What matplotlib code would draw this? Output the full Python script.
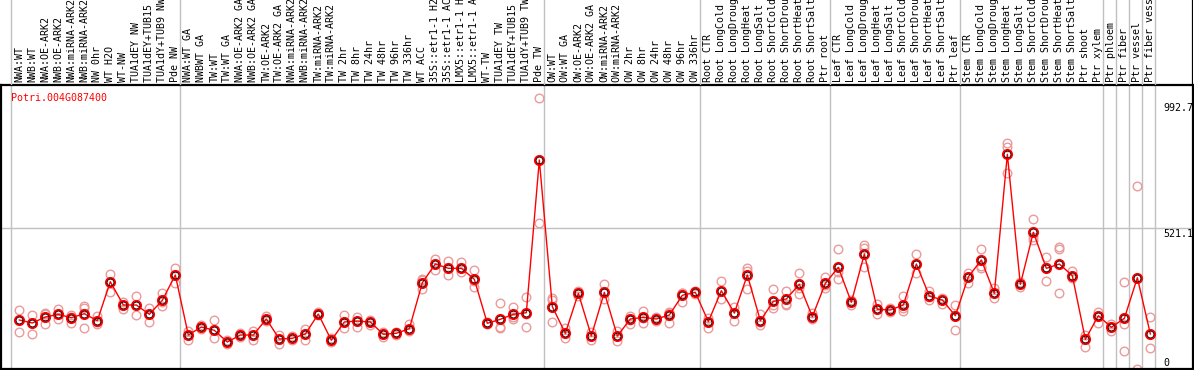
import numpy as np
import matplotlib
matplotlib.use("Agg")
import matplotlib.pyplot as plt

gene = "Potri.004G087400"

samples = [
    "NWA:WT", "NWB:WT", "NWA:OE-ARK2", "NWB:OE-ARK2", "NWA:miRNA-ARK2", "NWB:miRNA-ARK2",
    "NW 0hr", "WT H2O", "WT-NW", "TUA1dEY NW", "TUA1dEY+TUB15 NW", "TUA1dY+TUB9 NW", "Pde NW",
    "NWA:WT GA", "NWBWT GA", "TW:WT", "TW:WT GA", "NWA:OE-ARK2 GA", "NWB:OE-ARK2 GA",
    "TW:OE-ARK2", "TW:OE-ARK2 GA", "NWA:miRNA-ARK2 GA", "NWB:miRNA-ARK2 GA", "TW:miRNA-ARK2",
    "TW:miRNA-ARK2 GA", "TW 2hr", "TW 8hr", "TW 24hr", "TW 48hr", "TW 96hr", "TW 336hr",
    "WT ACC", "35S::etr1-1 H2O", "35S::etr1-1 ACC", "LMX5::etr1-1 H2O", "LMX5::etr1-1 ACC",
    "WT-TW", "TUA1dEY TW", "TUA1dEY+TUB15 TW", "TUA1dY+TUB9 TW", "Pde TW",
    "OW:WT", "OW:WT GA", "OW:OE-ARK2", "OW:OE-ARK2 GA", "OW:miRNA-ARK2", "OW:miRNA-ARK2 GA",
    "OW 2hr", "OW 8hr", "OW 24hr", "OW 48hr", "OW 96hr", "OW 336hr",
    "Root CTR", "Root LongCold", "Root LongDrought", "Root LongHeat", "Root LongSalt",
    "Root ShortCold", "Root ShortDrought", "Root ShortHeat", "Root ShortSalt", "Ptr root",
    "Leaf CTR", "Leaf LongCold", "Leaf LongDrought", "Leaf LongHeat", "Leaf LongSalt",
    "Leaf ShortCold", "Leaf ShortDrought", "Leaf ShortHeat", "Leaf ShortSalt", "Ptr leaf",
    "Stem CTR", "Stem LongCold", "Stem LongDrought", "Stem LongHeat", "Stem LongSalt",
    "Stem ShortCold", "Stem ShortDrought", "Stem ShortHeat", "Stem ShortSalt", "Ptr shoot",
    "Ptr xylem", "Ptr phloem", "Ptr fiber", "Ptr vessel", "Ptr fiber vessel",
]

# mean expression per sample
means = [
    188.6, 177.8, 199.5, 209.3, 197.0, 211.5, 186.1, 327.6, 243.1, 243.1, 209.3, 260.1, 351.9,
    134.2, 163.2, 151.3, 108.8, 134.2, 134.2, 192.3, 119.7, 122.3, 137.9, 210.4, 115.0,
    181.4, 185.0, 181.4, 136.8, 140.4, 157.1, 324.0, 391.8, 376.2, 376.2, 336.3,
    176.7, 191.2, 209.3, 215.1, 769.1,
    236.9, 140.4, 285.5, 130.6, 289.1, 130.6, 192.3, 198.4, 192.3, 206.8, 278.2, 289.1,
    182.5, 294.9, 214.0, 351.9, 186.1, 256.5, 264.8, 318.1, 200.6, 321.8,
    379.8, 252.9, 428.1, 227.5, 224.9, 243.1, 391.8, 275.7, 261.2, 204.2,
    345.7, 406.3, 285.5, 789.8, 318.1, 506.8, 376.2, 391.8, 349.3, 118.6, 204.2,
    162.2, 194.8, 342.1, 137.9,
]

# replicate values (three per sample)
reps = [
    (224.9, 188.6, 144.0), (206.8, 177.8, 137.9), (214.0, 209.3, 174.1), (228.6, 209.3, 191.2),
    (206.8, 200.6, 176.7), (240.5, 231.1, 158.5), (204.2, 182.5, 173.0), (354.4, 325.4, 289.1),
    (255.0, 243.1, 228.6), (275.7, 243.1, 206.8), (231.1, 209.3, 180.3), (287.7, 255.0, 239.4),
    (378.4, 351.9, 324.0),
    (148.7, 134.2, 116.1), (170.5, 163.2, 156.0), (187.6, 151.3, 122.3), (116.1, 108.8, 100.5),
    (141.5, 134.2, 125.9), (148.7, 134.2, 116.1), (204.2, 188.6, 183.9), (134.2, 119.7, 101.6),
    (131.7, 122.3, 116.1), (154.9, 137.9, 116.1), (218.8, 210.4, 206.8), (122.3, 115.0, 109.9),
    (206.8, 181.4, 158.5), (200.6, 185.0, 164.3), (188.6, 181.4, 170.5), (146.2, 136.8, 128.1),
    (146.2, 140.4, 134.2), (173.0, 151.3, 148.7), (336.3, 335.0, 300.0), (408.9, 391.8, 370.1),
    (402.7, 376.2, 351.9), (400.2, 376.2, 363.9), (370.1, 330.1, 309.5),
    (181.4, 176.7, 173.0), (249.2, 164.3, 160.7), (236.9, 199.5, 191.2), (273.2, 212.0, 164.3),
    (992.7, 769.1, 541.6),
    (269.5, 261.2, 182.5), (160.7, 140.4, 122.3), (293.9, 285.5, 275.7), (146.2, 130.6, 116.1),
    (318.1, 286.6, 264.8), (148.7, 130.6, 112.5), (204.2, 188.6, 175.2), (221.3, 197.0, 176.7),
    (200.6, 191.2, 185.0), (216.6, 214.0, 178.9), (287.7, 285.5, 252.9), (293.9, 289.1, 284.1),
    (197.0, 182.5, 158.5), (330.1, 294.9, 264.8), (236.9, 214.0, 186.1), (378.4, 367.5, 300.0),
    (209.3, 181.4, 170.5), (301.1, 243.1, 233.3), (293.9, 246.7, 243.1), (358.1, 304.8, 281.9),
    (213.0, 199.5, 192.3), (345.7, 315.6, 305.8),
    (445.2, 363.9, 336.3), (261.2, 252.9, 243.1), (460.8, 451.0, 382.0), (246.7, 227.5, 209.3),
    (233.3, 224.9, 216.6), (275.7, 232.2, 221.3), (428.1, 391.8, 358.1), (294.9, 272.1, 261.2),
    (269.5, 261.2, 246.7), (243.1, 206.8, 151.3),
    (358.1, 345.7, 321.8), (445.2, 384.6, 378.4), (303.7, 285.5, 267.4), (829.7, 817.4, 720.9),
    (327.6, 318.1, 309.5), (554.0, 489.8, 478.9), (418.3, 379.8, 330.1), (452.4, 446.2, 285.5),
    (367.5, 349.4, 339.9), (134.2, 118.6, 91.8), (216.6, 204.2, 176.7),
    (173.0, 162.2, 148.7), (325.4, 174.1, 77.3), (673.7, 342.1, 9.1), (198.4, 137.9, 86.0),
]

# first sample index of each block (separator lines)
group_starts = [0, 13, 41, 53, 63, 73, 84, 85, 86, 87, 88]
scale_labels = ["992.7", "521.1", "0"]
mid_line = 521.1

W, H = 1194, 370
fig = plt.figure(figsize=(W / 100, H / 100), dpi=100)
mono = "DejaVu Sans Mono"
grey = "#c0c0c0"

x = np.arange(len(samples))
xlim = (-1.408, 90.28)

# main plot
ax = fig.add_axes([1 / W, 1 / H, 1192 / W, 284 / H])
ax.set_xlim(*xlim)
ax.set_ylim(10.9, 1041.2)
ax.set_xticks([])
ax.set_yticks([])
for s in ax.spines.values():
    s.set_linewidth(1.6)
    s.set_color("black")

for g in group_starts:
    ax.axvline(g - 0.64, color=grey, lw=1, zorder=1)
ax.axhline(mid_line, color=grey, lw=1, zorder=1)

rx = np.repeat(x, 3)
ry = np.array(reps).ravel()
ax.plot(rx, ry, ls="none", marker="o", ms=6.2, mfc="none", mec="#eb9a9a", mew=1.0, zorder=2)
ax.plot(x, means, color="red", lw=1.0, zorder=3)
ax.plot(x, means, ls="none", marker="o", ms=6.6, mfc="none", mec="red", mew=1.4, zorder=4)
ax.plot(x, means, ls="none", marker="o", ms=4.9, mfc="none", mec="black", mew=0.6, zorder=5)

ax.text(9.5 / 1192, 0.972, gene, transform=ax.transAxes, color="red",
        family=mono, fontsize=7.2, ha="left", va="top")
for lab, fy in zip(scale_labels, [0.936, 0.494, 0.038]):
    ax.text(1162 / 1192, fy, lab, transform=ax.transAxes, color="black",
            family=mono, fontsize=7.2, ha="left", va="top")

# header with sample names (long names run off the top, as in the source)
hx = fig.add_axes([1 / W, 285 / H, 1192 / W, 85 / H])
hx.set_xlim(*xlim)
hx.set_ylim(0, 85)
hx.axis("off")
for g in group_starts:
    hx.axvline(g - 0.64, color=grey, lw=1)
hx.axvline(xlim[1], color="black", lw=1.6)
for i, lab in enumerate(samples):
    hx.text(i, 2.5, lab, rotation=90, ha="center", va="bottom",
            family=mono, fontsize=7.2, color="black")

fig.savefig("out.png", dpi=100)
